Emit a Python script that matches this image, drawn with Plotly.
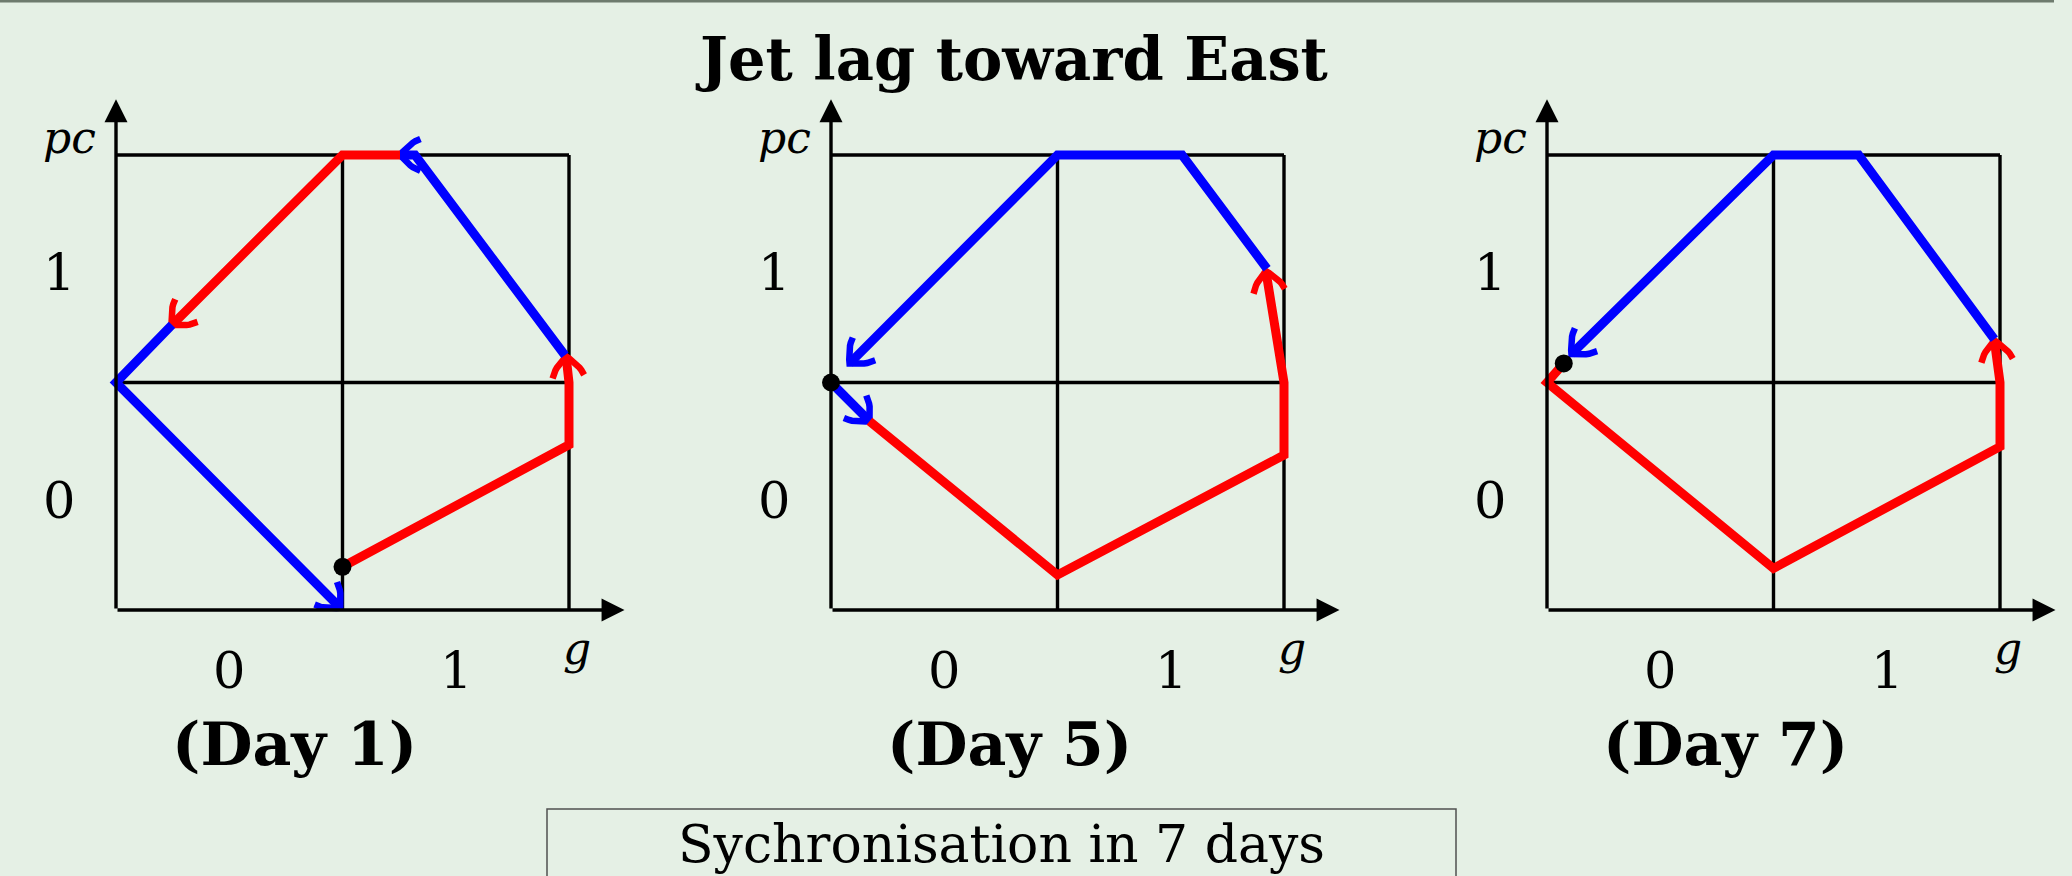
import numpy as np
import plotly.graph_objects as go

W, H = 2072, 876
BG = "#E5F0E5"
RED = "#FF0000"
BLUE = "#0000FF"

title_text = "Jet lag toward East"
day_labels = ["(Day 1)", "(Day 5)", "(Day 7)"]
tick_vals = [0, 1]
tick_text = ["0", "1"]
x_label = "g"
y_label = "pc"
footer_text = "Sychronisation in 7 days"

# ---- Day 1 trajectory (g, pc) ----
day1_red_a_x = [0.5, 1.5, 1.5, 1.487]
day1_red_a_y = [-0.31, 0.226, 0.5, 0.615]
day1_blue_a_x = [1.482, 0.82, 0.754]
day1_blue_a_y = [0.62, 1.5, 1.5]
day1_red_b_x = [0.754, 0.5, -0.253]
day1_red_b_y = [1.5, 1.5, 0.753]
day1_blue_b_x = [-0.253, -0.5, 0.49]
day1_blue_b_y = [0.753, 0.5, -0.49]
day1_dot = [0.5, -0.31]

# ---- Day 5 trajectory ----
day5_blue_a_x = [-0.5, -0.33]
day5_blue_a_y = [0.5, 0.33]
day5_red_x = [-0.33, 0.5, 1.5, 1.5, 1.42]
day5_red_y = [0.33, -0.346, 0.181, 0.5, 0.99]
day5_blue_b_x = [1.425, 1.05, 0.5, -0.418]
day5_blue_b_y = [1.0, 1.5, 1.5, 0.584]
day5_dot = [-0.5, 0.5]

# ---- Day 7 trajectory ----
day7_red_x = [-0.426, -0.5, 0.5, 1.5, 1.5, 1.475]
day7_red_y = [0.584, 0.5, -0.317, 0.218, 0.5, 0.685]
day7_blue_x = [1.475, 0.876, 0.5, -0.392]
day7_blue_y = [0.69, 1.5, 1.5, 0.625]
day7_dot = [-0.426, 0.584]

panels = [
    dict(paths=[(RED, day1_red_a_x, day1_red_a_y), (BLUE, day1_blue_a_x, day1_blue_a_y),
                (RED, day1_red_b_x, day1_red_b_y), (BLUE, day1_blue_b_x, day1_blue_b_y)],
         dot=day1_dot),
    dict(paths=[(BLUE, day5_blue_a_x, day5_blue_a_y), (RED, day5_red_x, day5_red_y),
                (BLUE, day5_blue_b_x, day5_blue_b_y)],
         dot=day5_dot),
    dict(paths=[(RED, day7_red_x, day7_red_y), (BLUE, day7_blue_x, day7_blue_y)],
         dot=day7_dot),
]

LO, MID, HI = -0.5, 0.5, 1.5
AX_TIP = 1.745
XR = [-0.9, 1.8]
YR = [-0.8, 1.85]
PX_X = 226.5
PX_Y = 227.5
panel_left_px = [116, 831, 1547]


def chevron(xa, ya, xb, yb, L=0.09, Wd=0.07):
    d = np.array([xb - xa, yb - ya], dtype=float)
    d /= np.hypot(*d)
    n = np.array([-d[1], d[0]])
    t = np.linspace(0, 1, 9)
    back = 2 * (1 - t) * t * 0.5 * L + t ** 2 * L
    side = 2 * (1 - t) * t * 0.8 * Wd + t ** 2 * Wd
    tip = np.array([xb, yb])
    s1 = tip[None, :] - back[:, None] * d + side[:, None] * n
    s2 = tip[None, :] - back[:, None] * d - side[:, None] * n
    pts = np.vstack([s1[::-1], s2])
    return pts[:, 0], pts[:, 1]


fig = go.Figure()
layout = dict(
    width=W, height=H, margin=dict(l=0, r=0, t=0, b=0),
    paper_bgcolor=BG, plot_bgcolor=BG, showlegend=False,
)
annotations = []
shapes = []

y_dom = [(H - (610 + (LO - YR[0]) * PX_Y)) / H, (H - (155 - (YR[1] - HI) * PX_Y)) / H]

for i, p in enumerate(panels):
    k = "" if i == 0 else str(i + 1)
    xa, ya = "x" + k, "y" + k
    left = panel_left_px[i] - (LO - XR[0]) * PX_X
    right = left + (XR[1] - XR[0]) * PX_X
    layout["xaxis" + k] = dict(domain=[left / W, min(right / W, 1.0)], range=XR, visible=False,
                               fixedrange=True, anchor=ya)
    layout["yaxis" + k] = dict(domain=y_dom, range=YR, visible=False, fixedrange=True, anchor=xa)

    blk = dict(color="black", width=3.4)
    for gx, gy in [([LO, HI], [HI, HI]), ([HI, HI], [LO, HI]),
                   ([MID, MID], [LO, HI]), ([LO, HI], [MID, MID])]:
        fig.add_trace(go.Scatter(x=gx, y=gy, mode="lines", line=blk, xaxis=xa, yaxis=ya,
                                 hoverinfo="skip"))
    # axes with arrow heads
    for (tx, ty) in [(LO, AX_TIP), (AX_TIP, LO)]:
        annotations.append(dict(x=tx, y=ty, ax=LO, ay=LO, xref=xa, yref=ya, axref=xa, ayref=ya,
                                showarrow=True, arrowhead=2, arrowsize=1.35, arrowwidth=3.4,
                                arrowcolor="black", text=""))

    for color, px, py in p["paths"]:
        fig.add_trace(go.Scatter(x=px, y=py, mode="lines", line=dict(color=color, width=9),
                                 xaxis=xa, yaxis=ya, hoverinfo="skip"))
        cx, cy = chevron(px[-2], py[-2], px[-1], py[-1])
        fig.add_trace(go.Scatter(x=cx, y=cy, mode="lines", line=dict(color=color, width=6.5),
                                 xaxis=xa, yaxis=ya, hoverinfo="skip"))
    fig.add_trace(go.Scatter(x=[p["dot"][0]], y=[p["dot"][1]], mode="markers",
                             marker=dict(color="black", size=18), xaxis=xa, yaxis=ya,
                             cliponaxis=False, hoverinfo="skip"))

    f_num = dict(family="DejaVu Serif", size=51, color="black")
    for v, t in zip(tick_vals, tick_text):
        annotations.append(dict(x=-0.752, y=v - 0.018, xref=xa, yref=ya, text=t, showarrow=False,
                                font=f_num, xanchor="center", yanchor="middle"))
        annotations.append(dict(x=v, y=-0.768, xref=xa, yref=ya, text=t, showarrow=False,
                                font=f_num, xanchor="center", yanchor="middle"))
    f_it = dict(family="DejaVu Serif", size=44, color="black", style="italic")
    annotations.append(dict(x=-0.707, y=1.575, xref=xa, yref=ya, text=y_label, showarrow=False,
                            font=f_it, xanchor="center", yanchor="middle"))
    annotations.append(dict(x=1.535, y=-0.67, xref=xa, yref=ya, text=x_label, showarrow=False,
                            font=f_it, xanchor="center", yanchor="middle"))
    day_x_px = panel_left_px[i] + (0.286 - LO) * PX_X
    annotations.append(dict(x=day_x_px / W, y=1 - 744 / H, xref="paper", yref="paper",
                            text="<b>" + day_labels[i] + "</b>",
                            showarrow=False, xanchor="center", yanchor="middle",
                            font=dict(family="DejaVu Serif", size=60, color="black")))

annotations.append(dict(x=1011 / W, y=1 - 59 / H, xref="paper", yref="paper",
                        text="<b>" + title_text + "</b>", showarrow=False,
                        xanchor="center", yanchor="middle",
                        font=dict(family="DejaVu Serif", size=59, color="black")))
annotations.append(dict(x=1001 / W, y=1 - 844 / H, xref="paper", yref="paper",
                        text=footer_text, showarrow=False, xanchor="center", yanchor="middle",
                        font=dict(family="DejaVu Serif", size=52, color="black")))

shapes.append(dict(type="rect", xref="paper", yref="paper", x0=547 / W, x1=1456 / W,
                   y0=-0.05, y1=1 - 809 / H, line=dict(color="#505050", width=1.5),
                   fillcolor="rgba(0,0,0,0)"))
shapes.append(dict(type="rect", xref="paper", yref="paper", x0=0, x1=2054 / W,
                   y0=1 - 2.5 / H, y1=1, line=dict(width=0), fillcolor="#6E7B6E"))

layout["annotations"] = annotations
layout["shapes"] = shapes
fig.update_layout(**layout)
fig.write_html("out.html", config={"displayModeBar": False},
               post_script="document.body.style.margin='0';document.body.style.background='%s';" % BG)
